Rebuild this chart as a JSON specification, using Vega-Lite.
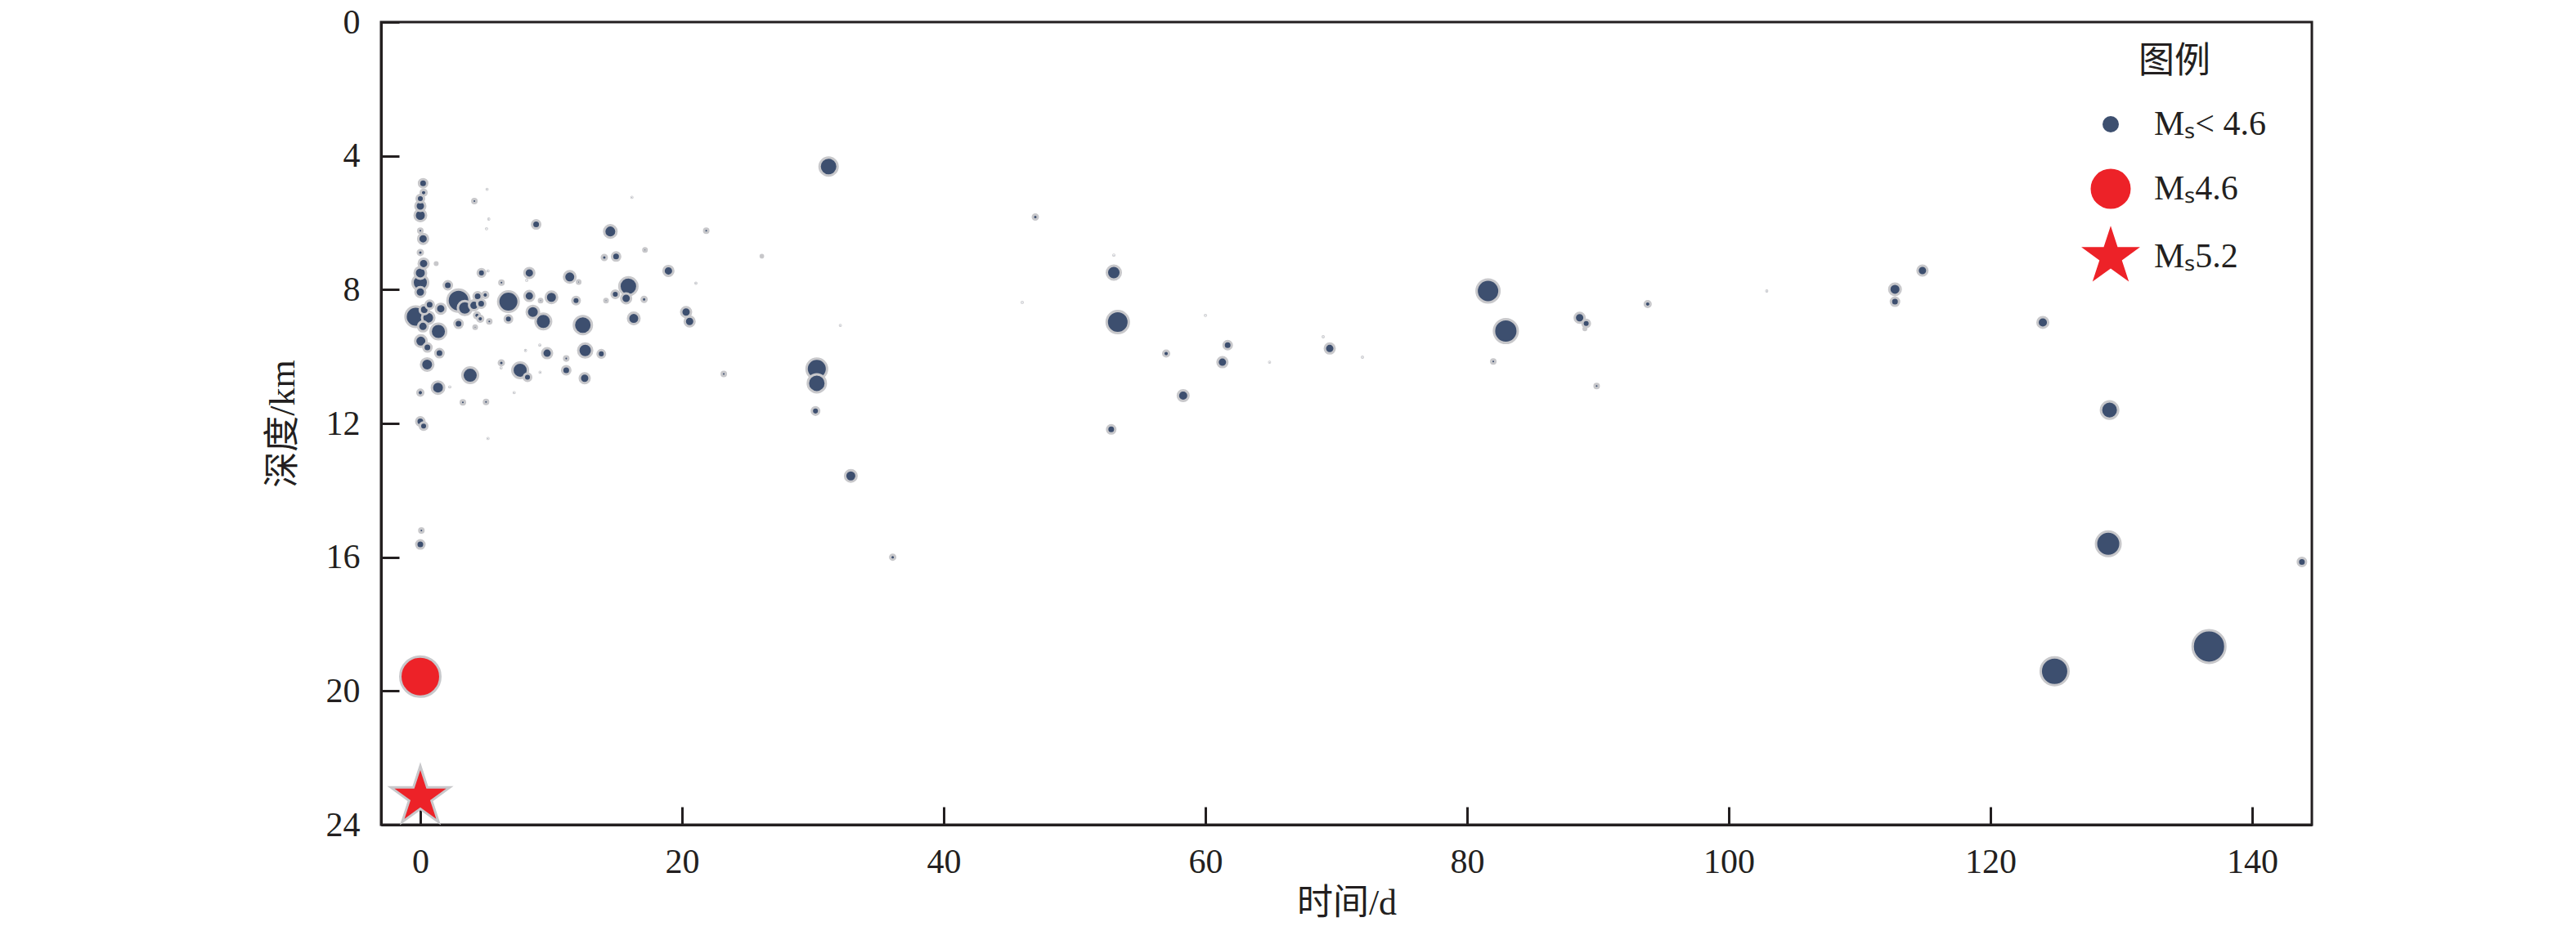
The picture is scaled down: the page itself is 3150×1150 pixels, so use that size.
{
 "$schema": "https://vega.github.io/schema/vega-lite/v6.json",
 "width": 2361, "height": 982,
 "autosize": {"type": "none"},
 "padding": {"left": 466, "top": 27, "right": 323, "bottom": 141},
 "background": "white",
 "config": {
   "view": {"stroke": "#231f20", "strokeWidth": 3},
   "axis": {"domainColor": "#231f20", "domainWidth": 3, "tickColor": "#231f20", "tickWidth": 3, "tickSize": -22, "grid": false,
            "labelFont": "Liberation Serif", "labelFontSize": 42, "labelColor": "#231f20",
            "titleFont": "Liberation Serif, Noto Sans CJK SC", "titleFontSize": 44, "titleFontWeight": "normal", "titleColor": "#231f20"},
   "legend": {"orient": "none", "legendX": 2080, "legendY": 27, "titleFont": "Liberation Serif, Noto Sans CJK SC", "titleFontSize": 44, "titleFontWeight": "normal", "titleColor": "#231f20", "titleAnchor": "middle", "titlePadding": 33, "labelFont": "Liberation Serif", "labelFontSize": 42, "labelColor": "#231f20", "labelOffset": 18, "rowPadding": -7, "gridAlign": "all", "symbolStrokeColor": "#c8c8cb", "symbolStrokeWidth": 3, "symbolOpacity": 1}
 },
 "datasets": {
  "quakes": [
   {"t":0.21,"dep":4.82,"mag":1.15},{"t":0.25,"dep":5.10,"mag":0.81},{"t":0.0,"dep":5.28,"mag":1.04},{"t":0.0,"dep":5.50,"mag":1.38},
   {"t":0.0,"dep":5.78,"mag":1.61},{"t":0.0,"dep":6.24,"mag":0.58},{"t":0.21,"dep":6.48,"mag":1.38},{"t":0.0,"dep":6.89,"mag":0.69},
   {"t":0.25,"dep":7.22,"mag":1.38},{"t":0.0,"dep":7.50,"mag":1.61},{"t":0.0,"dep":7.79,"mag":2.19},{"t":0.0,"dep":8.07,"mag":1.38},
   {"t":-0.35,"dep":8.81,"mag":2.88},{"t":0.71,"dep":8.45,"mag":1.15},{"t":1.56,"dep":8.57,"mag":1.38},{"t":0.6,"dep":8.84,"mag":1.73},
   {"t":1.38,"dep":9.25,"mag":2.19},{"t":0.04,"dep":9.54,"mag":1.61},{"t":0.54,"dep":9.73,"mag":1.15},{"t":1.46,"dep":9.9,"mag":1.15},
   {"t":0.52,"dep":10.24,"mag":1.73},{"t":1.35,"dep":10.93,"mag":1.73},{"t":0.0,"dep":11.08,"mag":0.81},{"t":0.0,"dep":11.94,"mag":1.15},
   {"t":0.25,"dep":12.08,"mag":1.04},{"t":1.21,"dep":7.22,"mag":0.35},{"t":0.3,"dep":8.6,"mag":1.27},{"t":0.2,"dep":9.1,"mag":1.38},
   {"t":2.1,"dep":7.87,"mag":1.15},{"t":2.92,"dep":8.33,"mag":3.11},{"t":3.4,"dep":8.55,"mag":1.96},{"t":2.92,"dep":9.02,"mag":1.15},
   {"t":4.13,"dep":5.35,"mag":0.58},{"t":5.1,"dep":5.0,"mag":0.1},{"t":5.23,"dep":5.89,"mag":0.1},{"t":5.06,"dep":6.18,"mag":0.1},
   {"t":4.67,"dep":7.5,"mag":1.04},{"t":5.17,"dep":7.44,"mag":0.1},{"t":4.38,"dep":8.2,"mag":1.15},{"t":4.96,"dep":8.16,"mag":0.81},
   {"t":4.1,"dep":8.47,"mag":1.38},{"t":4.65,"dep":8.42,"mag":1.15},{"t":4.33,"dep":8.77,"mag":0.81},{"t":4.58,"dep":8.87,"mag":0.81},
   {"t":5.27,"dep":8.95,"mag":0.58},{"t":4.19,"dep":9.12,"mag":0.46},{"t":6.2,"dep":7.79,"mag":0.58},{"t":6.73,"dep":8.36,"mag":2.88},
   {"t":6.73,"dep":8.88,"mag":1.04},{"t":3.81,"dep":10.56,"mag":2.19},{"t":3.25,"dep":11.37,"mag":0.58},{"t":5.02,"dep":11.36,"mag":0.58},
   {"t":2.25,"dep":10.91,"mag":0.1},{"t":5.17,"dep":12.45,"mag":0.1},{"t":6.19,"dep":10.19,"mag":0.69},{"t":6.17,"dep":10.34,"mag":0.1},
   {"t":7.63,"dep":10.41,"mag":2.19},{"t":8.19,"dep":10.62,"mag":1.04},{"t":7.17,"dep":11.08,"mag":0.1},{"t":8.04,"dep":9.82,"mag":0.1},
   {"t":9.13,"dep":9.66,"mag":0.1},{"t":9.15,"dep":10.47,"mag":0.1},{"t":9.69,"dep":9.9,"mag":1.38},{"t":8.33,"dep":7.5,"mag":1.38},
   {"t":8.13,"dep":7.72,"mag":0.1},{"t":8.85,"dep":6.05,"mag":1.15},{"t":8.33,"dep":8.19,"mag":1.38},{"t":8.6,"dep":8.67,"mag":1.73},
   {"t":9.4,"dep":8.95,"mag":2.19},{"t":9.19,"dep":8.33,"mag":0.46},{"t":10.02,"dep":8.23,"mag":1.61},{"t":11.42,"dep":7.62,"mag":1.61},
   {"t":12.1,"dep":7.77,"mag":0.46},{"t":11.9,"dep":8.33,"mag":1.04},{"t":12.42,"dep":9.06,"mag":2.53},{"t":12.6,"dep":9.82,"mag":1.96},
   {"t":11.15,"dep":10.06,"mag":0.58},{"t":11.15,"dep":10.41,"mag":1.15},{"t":12.56,"dep":10.65,"mag":1.38},{"t":13.83,"dep":9.92,"mag":1.04},
   {"t":14.52,"dep":6.26,"mag":1.73},{"t":14.06,"dep":7.04,"mag":0.69},{"t":14.96,"dep":7.01,"mag":1.15},{"t":17.17,"dep":6.81,"mag":0.46},
   {"t":16.17,"dep":5.24,"mag":0.1},{"t":15.9,"dep":7.9,"mag":2.53},{"t":14.9,"dep":8.14,"mag":1.04},{"t":15.73,"dep":8.26,"mag":1.38},
   {"t":14.19,"dep":8.33,"mag":0.46},{"t":17.1,"dep":8.29,"mag":0.69},{"t":16.31,"dep":8.86,"mag":1.61},{"t":18.96,"dep":7.44,"mag":1.38},
   {"t":21.06,"dep":7.81,"mag":0.1},{"t":20.31,"dep":8.67,"mag":1.38},{"t":20.58,"dep":8.95,"mag":1.38},{"t":21.85,"dep":6.24,"mag":0.58},
   {"t":23.19,"dep":10.52,"mag":0.58},{"t":26.1,"dep":7.0,"mag":0.3},{"t":0.08,"dep":15.2,"mag":0.58},{"t":0.0,"dep":15.62,"mag":1.15},
   {"t":31.2,"dep":4.32,"mag":2.53},{"t":47.0,"dep":5.83,"mag":0.69},{"t":53.0,"dep":6.97,"mag":0.1},{"t":53.0,"dep":7.49,"mag":1.96},
   {"t":46.0,"dep":8.38,"mag":0.1},{"t":53.3,"dep":8.97,"mag":3.11},{"t":60.0,"dep":8.77,"mag":0.1},{"t":32.1,"dep":9.07,"mag":0.1},
   {"t":57.0,"dep":9.91,"mag":0.81},{"t":61.7,"dep":9.66,"mag":1.15},{"t":61.3,"dep":10.17,"mag":1.38},{"t":58.3,"dep":11.17,"mag":1.5},
   {"t":52.8,"dep":12.18,"mag":1.15},{"t":30.3,"dep":10.37,"mag":2.88},{"t":30.3,"dep":10.8,"mag":2.53},{"t":30.2,"dep":11.63,"mag":1.04},
   {"t":32.9,"dep":13.57,"mag":1.61},{"t":36.1,"dep":16.0,"mag":0.69},{"t":64.9,"dep":10.17,"mag":0.1},{"t":69.0,"dep":9.41,"mag":0.1},
   {"t":69.5,"dep":9.76,"mag":1.38},{"t":72.0,"dep":10.02,"mag":0.1},{"t":81.6,"dep":8.04,"mag":3.22},{"t":82.96,"dep":9.24,"mag":3.34},
   {"t":82.0,"dep":10.15,"mag":0.58},{"t":88.6,"dep":8.84,"mag":1.38},{"t":89.1,"dep":9.01,"mag":1.04},{"t":89.0,"dep":9.17,"mag":0.35},
   {"t":89.9,"dep":10.88,"mag":0.58},{"t":93.8,"dep":8.43,"mag":0.81},{"t":102.9,"dep":8.04,"mag":0.1},{"t":114.8,"dep":7.43,"mag":1.38},
   {"t":112.7,"dep":7.99,"mag":1.61},{"t":112.7,"dep":8.36,"mag":1.15},{"t":124.0,"dep":8.98,"mag":1.5},{"t":129.1,"dep":11.6,"mag":2.42},
   {"t":129.0,"dep":15.6,"mag":3.45},{"t":143.8,"dep":16.14,"mag":1.15},{"t":136.7,"dep":18.67,"mag":4.6},{"t":124.9,"dep":19.41,"mag":3.91}
  ],
  "main": [
   {"t":0.0,"dep":19.57,"cls":"Mₛ4.6"},
   {"t":0.0,"dep":23.17,"cls":"Mₛ5.2"}
  ]
 },
 "layer": [
  {
   "data": {"name": "quakes"},
   "mark": {"type": "point", "filled": true, "shape": "circle", "fill": "#3d4f6f", "stroke": "#c8c8cb", "strokeWidth": 3, "opacity": 1},
   "encoding": {
    "x": {"field": "t", "type": "quantitative", "scale": {"domain": [-3, 144.56], "nice": false, "zero": false},
          "axis": {"values": [0,20,40,60,80,100,120,140], "title": "时间/d", "labelPadding": 47, "titlePadding": 8, "labelFlush": false}},
    "y": {"field": "dep", "type": "quantitative", "scale": {"domain": [0, 24], "reverse": true, "nice": false, "zero": false},
          "axis": {"values": [0,4,8,12,16,20,24], "title": "深度/km", "labelPadding": 48, "titlePadding": 30}},
    "size": {"field": "mag", "type": "quantitative", "scale": {"type": "pow", "exponent": 2, "domain": [0, 4.6], "range": [0, 1600]}, "legend": null},
    "order": {"field": "mag", "type": "quantitative", "sort": "descending"}
   }
  },
  {
   "data": {"name": "main"},
   "mark": {"type": "point", "filled": true, "stroke": "#c8c8cb", "strokeWidth": 3, "opacity": 1},
   "encoding": {
    "x": {"field": "t", "type": "quantitative"},
    "y": {"field": "dep", "type": "quantitative"},
    "fill": {"field": "cls", "type": "nominal",
             "scale": {"domain": ["Mₛ< 4.6", "Mₛ4.6", "Mₛ5.2"], "range": ["#3d4f6f", "#ed2228", "#ed2228"]},
             "legend": {"title": "图例"}},
    "shape": {"field": "cls", "type": "nominal",
             "scale": {"domain": ["Mₛ< 4.6", "Mₛ4.6", "Mₛ5.2"], "range": ["circle", "circle", "M0,-1.14L0.2559,-0.3523L1.0843,-0.3523L0.4142,0.1345L0.6701,0.9223L0,0.4355L-0.6701,0.9223L-0.4142,0.1345L-1.0843,-0.3523L-0.2559,-0.3523Z"]},
             "legend": {"title": "图例"}},
    "size": {"field": "cls", "type": "nominal",
             "scale": {"type": "point", "padding": 0, "domain": ["Mₛ< 4.6", "Mₛ4.6", "Mₛ5.2"], "range": [400, 4400]},
             "legend": {"title": "图例"}}
   }
  }
 ],
 "resolve": {
  "scale": {"size": "independent", "fill": "independent", "shape": "independent"},
  "legend": {"size": "independent", "fill": "independent", "shape": "independent"}
 }
}
